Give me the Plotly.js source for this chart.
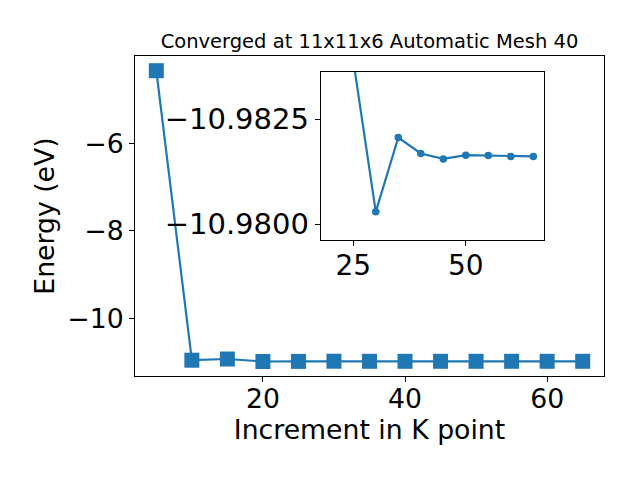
<!DOCTYPE html>
<html><head><meta charset="utf-8">
<script src="https://cdn.plot.ly/plotly-3.0.1.min.js"></script>
<style>body{margin:0;background:#fff}</style>
</head><body>
<div id="chart" style="width:640px;height:480px"></div>
<script>
// Data
const kpoints = [5, 10, 15, 20, 25, 30, 35, 40, 45, 50, 55, 60, 65];
const energy = [-4.34, -10.957, -10.93, -10.9862, -10.9839, -10.98029, -10.98206,
                -10.98168, -10.98155, -10.98164, -10.98163, -10.98161, -10.98161];
const insetStart = 3; // inset shows k = 20 onwards
const insetK = kpoints.slice(insetStart);
const insetEnergy = energy.slice(insetStart);

const mainXTicks = [20, 40, 60];
const mainYTicks = [-10, -8, -6];
const insetXTicks = [25, 50];
const insetYTicks = [-10.98, -10.9825];

const titleText = 'Converged at 11x11x6 Automatic Mesh 40';
const xTitle = 'Increment in K point';
const yTitle = 'Energy (eV)';

const minus = s => s.replace('-', '\u2212');
const FONT = 'DejaVu Sans, sans-serif';
const BLUE = '#1f77b4';

const traces = [
  {x: kpoints, y: energy, type: 'scatter', mode: 'lines+markers',
   line: {color: BLUE, width: 2.2},
   marker: {symbol: 'square', size: 15, color: BLUE},
   xaxis: 'x', yaxis: 'y', hoverinfo: 'skip'},
  {x: insetK, y: insetEnergy, type: 'scatter', mode: 'lines+markers',
   line: {color: BLUE, width: 2.2},
   marker: {symbol: 'circle', size: 7.5, color: BLUE},
   xaxis: 'x2', yaxis: 'y2', hoverinfo: 'skip'}
];

const axBase = {showgrid: false, zeroline: false, showline: true, mirror: true,
  linecolor: '#000', linewidth: 1, ticks: 'outside', ticklen: 5, tickwidth: 1,
  tickcolor: '#000', tickmode: 'array'};

const layout = {
  width: 640, height: 480,
  margin: {l: 135, r: 36, t: 56, b: 104, pad: 0},
  paper_bgcolor: '#fff', plot_bgcolor: '#fff',
  showlegend: false,
  font: {family: FONT, color: '#000'},
  title: {text: titleText, font: {family: FONT, size: 19.5, color: '#000'},
          x: 0.5, xref: 'paper', y: 1 - 48/480, yref: 'container', yanchor: 'bottom'},
  xaxis: Object.assign({}, axBase, {
    domain: [0, 1], anchor: 'y', range: [2, 68],
    tickvals: mainXTicks, ticktext: mainXTicks.map(String),
    tickfont: {size: 26.7}, ticklabelstandoff: -6,
    title: {text: xTitle, font: {size: 26.7}, standoff: 4}
  }),
  yaxis: Object.assign({}, axBase, {
    domain: [0, 1], anchor: 'x', range: [-11.318, -4.004],
    tickvals: mainYTicks, ticktext: mainYTicks.map(v => minus(String(v))),
    tickfont: {size: 26.7},
    title: {text: yTitle, font: {size: 26.7}, standoff: 4}
  }),
  xaxis2: Object.assign({}, axBase, {
    domain: [0.396, 0.872], anchor: 'y2', range: [17.77, 67.37],
    tickvals: insetXTicks, ticktext: insetXTicks.map(String),
    tickfont: {size: 28}, ticklabelstandoff: -5
  }),
  yaxis2: Object.assign({}, axBase, {
    domain: [0.425, 0.95], anchor: 'x2', range: [-10.97962, -10.98362],
    tickvals: insetYTicks, ticktext: insetYTicks.map(v => minus(v.toFixed(4))),
    tickfont: {size: 29}
  })
};

Plotly.newPlot('chart', traces, layout, {staticPlot: true, displayModeBar: false});
</script>
</body></html>
